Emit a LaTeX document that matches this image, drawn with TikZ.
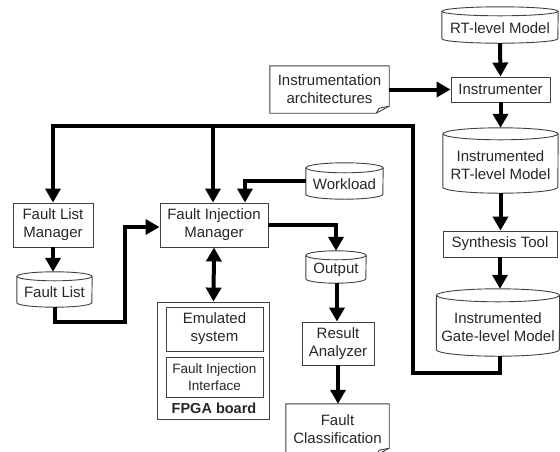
\documentclass[tikz,border=0pt]{standalone}
\usepackage{fontspec}
\setmainfont{Liberation Sans}
\usetikzlibrary{arrows.meta,calc}
\newcommand\mainfnt{\fontsize{15}{18}\selectfont}
\newcommand\smallfnt{\fontsize{13.5}{16.5}\selectfont}
\tikzset{
 thinline/.style={draw=black!75, line width=0.9pt},
 box/.style={thinline, rectangle, inner sep=0pt, align=center, font=\mainfnt, text=black!85},
 shapeonly/.style={rectangle, inner sep=0pt},
 txt/.style={align=center, font=\mainfnt, text=black!85, inner sep=0pt},
 conn/.style={line width=4pt, -{Triangle[length=14pt,width=15pt]}},
 dblconn/.style={line width=4pt, {Triangle[length=14pt,width=15pt]}-{Triangle[length=14pt,width=15pt]}},
}
% cylinder: 1 name, 2 cx, 3 ytop, 4 ybot, 5 width, 6 ry, 7 text dy, 8 text
\newcommand\cylnode[8]{%
  \node[shapeonly, minimum width=#5pt, minimum height={(#4-#3)*1pt}] (#1) at ({#2},{(#3+#4)/2}) {};
  \draw[thinline] ([yshift=-#6pt]#1.north west) -- ([yshift=#6pt]#1.south west)
     arc[start angle=180, end angle=360, x radius={#5/2*1pt}, y radius=#6pt]
     -- ([yshift=-#6pt]#1.north east);
  \draw[thinline] ([yshift=-#6pt]#1.north) ellipse[x radius={#5/2*1pt}, y radius=#6pt];
  \node[txt] at ([yshift=-#7pt]#1.center) {#8};
}
% document outline with folded corner
\newcommand\docoutline[1]{%
  \draw[thinline] ([yshift=7pt]#1.south east) -- (#1.north east) -- (#1.north west)
     -- (#1.south west) -- ([xshift=-13pt]#1.south east) -- cycle;
  \draw[thinline] ([xshift=-13pt]#1.south east) -- ([xshift=-10pt,yshift=5pt]#1.south east)
     -- ([yshift=7pt]#1.south east);
}
\begin{document}
\begin{tikzpicture}[x=1pt,y=-1pt]
\useasboundingbox (0,0) rectangle (560,451);

% right column
\cylnode{rt}{500}{7}{43}{116}{4.5}{3}{RT-level Model}
\node[box, minimum width=99pt, minimum height=25pt] (instr) at (500.5,89.5) {Instrumenter};
\node[txt, minimum width=119pt, minimum height=47pt] (ia) at (329.5,89.5) {Instrumentation\\architectures};
\docoutline{ia}
\cylnode{irt}{500.5}{128}{193}{115}{6}{5}{Instrumented\\RT-level Model}
\node[box, minimum width=114pt, minimum height=26pt] (syn) at (500,244) {Synthesis Tool};
\cylnode{gate}{498}{289}{356}{123}{6.5}{5}{Instrumented\\Gate-level Model}

% left part
\node[box, minimum width=80pt, minimum height=44pt] (flm) at (53,225) {Fault List\\Manager};
\node[box, minimum width=108pt, minimum height=44pt] (fim) at (214,225) {Fault Injection\\Manager};
\cylnode{fl}{54.5}{272}{307}{75}{4.5}{3}{Fault List}
\cylnode{work}{344.5}{163}{199}{77}{5}{3}{Workload}
\cylnode{out}{336}{251}{283}{60}{4.5}{3}{Output}
\node[box, minimum width=72pt, minimum height=43pt] (ra) at (338,343.5) {Result\\Analyzer};
\node[txt, minimum width=103pt, minimum height=51pt] (fc) at (337.5,429.5) {Fault\\Classification};
\docoutline{fc}

% FPGA board
\node[thinline, shapeonly, minimum width=112pt, minimum height=117pt] (fpga) at (213.5,360.5) {};
\node[box, minimum width=97pt, minimum height=44pt] (emu) at (214.5,329) {Emulated\\system};
\node[box, minimum width=97pt, minimum height=40pt, font=\smallfnt] (fii) at (214.5,377) {Fault Injection\\Interface};
\node[txt, font=\fontsize{14.5}{17}\selectfont\bfseries] (fpgalbl) at (214,408) {FPGA board};

% coordinates for the loop bus
\coordinate (loopbr) at (413,373);
\coordinate (busR) at (413,126);
\coordinate (busM) at (213,126);
\coordinate (busL) at (53,126);
\coordinate (flturn) at (125,322);

% connectors
\draw[conn] (rt.south) -- (instr.north);
\draw[conn] (ia.east) -- (instr.west);
\draw[conn] (instr.south) -- (irt.north);
\draw[conn] (irt.south) -- (irt.south |- syn.north);
\draw[conn] (syn.south) -- (syn.south |- gate.north);
\draw[conn] ([xshift=2pt]gate.south) |- (loopbr) -- (busR) -- (busL) -- (flm.north);
\draw[conn] (busM) -- (busM |- fim.north);
\draw[conn] (work.west) -| ([xshift=31pt]fim.north);
\draw[conn] (flm.south) -- (flm.south |- fl.north);
\draw[conn] (fl.south) |- (flturn) |- ([yshift=-2pt]fim.west);
\draw[dblconn] (fim.south) -- (fpga.north);
\draw[conn] (fim.east) -| (out.north);
\draw[conn] ([xshift=1pt]out.south) -- ([xshift=1pt]out.south |- ra.north);
\draw[conn] (ra.south) -- (ra.south |- fc.north);
\end{tikzpicture}
\end{document}
